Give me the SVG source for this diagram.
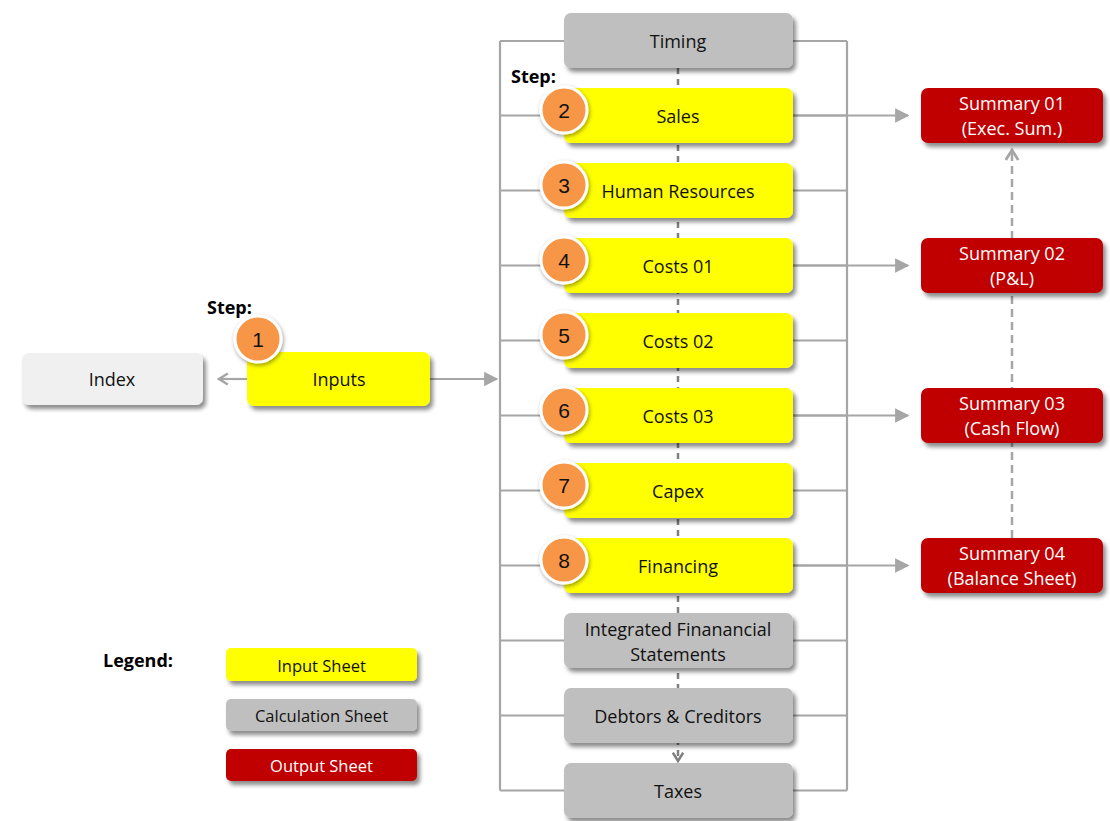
<svg xmlns="http://www.w3.org/2000/svg" width="1110" height="821" viewBox="0 0 1110 821">
<defs>
<filter id="sh" x="-10%" y="-20%" width="130%" height="160%">
<feDropShadow dx="3" dy="4" stdDeviation="2" flood-color="#000" flood-opacity="0.45"/>
</filter>
<filter id="shc" x="-30%" y="-30%" width="170%" height="170%">
<feDropShadow dx="1" dy="2" stdDeviation="2" flood-color="#000" flood-opacity="0.4"/>
</filter>
<marker id="tri" viewBox="0 0 10 10" refX="9" refY="5" markerWidth="6.5" markerHeight="6.5" orient="auto" markerUnits="strokeWidth">
<path d="M0,0 L10,5 L0,10 z" fill="#a6a6a6"/>
</marker>
<marker id="chev" viewBox="0 0 12 12" refX="10" refY="6" markerWidth="6" markerHeight="6" orient="auto" markerUnits="strokeWidth">
<path d="M2,1 L10,6 L2,11" fill="none" stroke="#a6a6a6" stroke-width="2.2"/>
</marker>
<marker id="chevd" viewBox="0 0 12 12" refX="10" refY="6" markerWidth="5" markerHeight="5" orient="auto" markerUnits="strokeWidth">
<path d="M2,1 L10,6 L2,11" fill="none" stroke="#7f7f7f" stroke-width="2.4"/>
</marker>
</defs>
<style>
.box{filter:url(#sh)}
.in{fill:#ffff00}
.calc{fill:#bfbfbf}
.out{fill:#c00000}
.idx{fill:#f0f0f0}
.t{font-family:"Open Sans","Liberation Sans",sans-serif;font-size:18px;fill:#111;text-anchor:middle;dominant-baseline:central}
.tw{fill:#fff}
.lg{font-size:16.5px}
.b{font-family:"Open Sans","Liberation Sans",sans-serif;font-weight:bold;font-size:18px;fill:#000}
.num{font-family:"Liberation Sans",sans-serif;font-size:21px;fill:#111;text-anchor:middle;dominant-baseline:central}
.circ{fill:#f79646;stroke:#fff;stroke-width:3;filter:url(#shc)}
.ln{stroke:#a6a6a6;stroke-width:2.2;fill:none}
.dash{stroke:#7f7f7f;stroke-width:2.5;fill:none;stroke-dasharray:6 5}
.dash2{stroke:#a6a6a6;stroke-width:2.5;fill:none;stroke-dasharray:8 5}
</style>
<rect width="1110" height="821" fill="#fff"/>
<g id="connectors">
<path class="ln" d="M500,41 V790.5 M847,41 V790.5"/>
<path class="ln" d="M500,41 H564 M793,41 H847"/>
<path class="ln" d="M500,115.5 H564 M793,115.5 H847"/>
<path class="ln" d="M500,190.5 H564 M793,190.5 H847"/>
<path class="ln" d="M500,265.5 H564 M793,265.5 H847"/>
<path class="ln" d="M500,340.5 H564 M793,340.5 H847"/>
<path class="ln" d="M500,415.5 H564 M793,415.5 H847"/>
<path class="ln" d="M500,490.5 H564 M793,490.5 H847"/>
<path class="ln" d="M500,565.5 H564 M793,565.5 H847"/>
<path class="ln" d="M500,640.5 H564 M793,640.5 H847"/>
<path class="ln" d="M500,715.5 H564 M793,715.5 H847"/>
<path class="ln" d="M500,790.5 H564 M793,790.5 H847"/>
<line class="ln" x1="430" y1="379" x2="497" y2="379" marker-end="url(#tri)"/>
<line class="ln" x1="247" y1="379" x2="219" y2="379" marker-end="url(#chev)"/>
<line class="ln" x1="793" y1="115.5" x2="908" y2="115.5" marker-end="url(#tri)"/>
<line class="ln" x1="793" y1="265.5" x2="908" y2="265.5" marker-end="url(#tri)"/>
<line class="ln" x1="793" y1="415.5" x2="908" y2="415.5" marker-end="url(#tri)"/>
<line class="ln" x1="793" y1="565.5" x2="908" y2="565.5" marker-end="url(#tri)"/>
<line class="dash" x1="678" y1="68" x2="678" y2="761" marker-end="url(#chevd)"/>
<line class="dash2" x1="1012" y1="538" x2="1012" y2="150" marker-end="url(#chev)"/>
</g>
<g id="n-index"><rect class="box idx" x="22" y="353" width="181" height="52" rx="7"/><text class="t" x="112" y="379">Index</text></g>
<g id="n-inputs"><rect class="box in" x="247" y="352" width="183" height="54" rx="7"/><text class="t" x="339" y="379">Inputs</text></g>
<g id="n-timing"><rect class="box calc" x="564" y="13" width="229" height="55" rx="7"/><text class="t" x="678" y="40.5">Timing</text></g>
<g id="n-sales"><rect class="box in" x="564" y="88" width="229" height="55" rx="7"/><text class="t" x="678" y="115.5">Sales</text></g>
<g id="n-hr"><rect class="box in" x="564" y="163" width="229" height="55" rx="7"/><text class="t" x="678" y="190.5">Human Resources</text></g>
<g id="n-costs01"><rect class="box in" x="564" y="238" width="229" height="55" rx="7"/><text class="t" x="678" y="265.5">Costs 01</text></g>
<g id="n-costs02"><rect class="box in" x="564" y="313" width="229" height="55" rx="7"/><text class="t" x="678" y="340.5">Costs 02</text></g>
<g id="n-costs03"><rect class="box in" x="564" y="388" width="229" height="55" rx="7"/><text class="t" x="678" y="415.5">Costs 03</text></g>
<g id="n-capex"><rect class="box in" x="564" y="463" width="229" height="55" rx="7"/><text class="t" x="678" y="490.5">Capex</text></g>
<g id="n-financing"><rect class="box in" x="564" y="538" width="229" height="55" rx="7"/><text class="t" x="678" y="565.5">Financing</text></g>
<g id="n-ifs"><rect class="box calc" x="564" y="613" width="229" height="55" rx="7"/><text class="t" x="678" y="628.5">Integrated Finanancial</text><text class="t" x="678" y="653.5">Statements</text></g>
<g id="n-dc"><rect class="box calc" x="564" y="688" width="229" height="55" rx="7"/><text class="t" x="678" y="715.5">Debtors &amp; Creditors</text></g>
<g id="n-taxes"><rect class="box calc" x="564" y="763" width="229" height="55" rx="7"/><text class="t" x="678" y="790.5">Taxes</text></g>
<g id="n-sum01"><rect class="box out" x="921" y="88" width="182" height="55" rx="7"/><text class="t tw" x="1012" y="103">Summary 01</text><text class="t tw" x="1012" y="128">(Exec. Sum.)</text></g>
<g id="n-sum02"><rect class="box out" x="921" y="238" width="182" height="55" rx="7"/><text class="t tw" x="1012" y="253">Summary 02</text><text class="t tw" x="1012" y="278">(P&amp;L)</text></g>
<g id="n-sum03"><rect class="box out" x="921" y="388" width="182" height="55" rx="7"/><text class="t tw" x="1012" y="403">Summary 03</text><text class="t tw" x="1012" y="428">(Cash Flow)</text></g>
<g id="n-sum04"><rect class="box out" x="921" y="538" width="182" height="55" rx="7"/><text class="t tw" x="1012" y="553">Summary 04</text><text class="t tw" x="1012" y="578">(Balance Sheet)</text></g>
<g id="steps">
<text class="b" x="207" y="314">Step:</text>
<text class="b" x="511" y="83">Step:</text>
<circle class="circ" cx="258" cy="339" r="23"/><text class="num" x="258" y="339">1</text>
<circle class="circ" cx="564" cy="110" r="23"/><text class="num" x="564" y="110">2</text>
<circle class="circ" cx="564" cy="185" r="23"/><text class="num" x="564" y="185">3</text>
<circle class="circ" cx="564" cy="260" r="23"/><text class="num" x="564" y="260">4</text>
<circle class="circ" cx="564" cy="335" r="23"/><text class="num" x="564" y="335">5</text>
<circle class="circ" cx="564" cy="410" r="23"/><text class="num" x="564" y="410">6</text>
<circle class="circ" cx="564" cy="485" r="23"/><text class="num" x="564" y="485">7</text>
<circle class="circ" cx="564" cy="560" r="23"/><text class="num" x="564" y="560">8</text>
</g>
<g id="legend">
<text class="b" x="103" y="667">Legend:</text>
<rect class="box in" x="226" y="648" width="191" height="33" rx="5"/><text class="t lg" x="321.5" y="665">Input Sheet</text>
<rect class="box calc" x="226" y="699" width="191" height="32" rx="5"/><text class="t lg" x="321.5" y="715">Calculation Sheet</text>
<rect class="box out" x="226" y="749" width="191" height="32" rx="5"/><text class="t lg tw" x="321.5" y="765.5">Output Sheet</text>
</g>
</svg>
